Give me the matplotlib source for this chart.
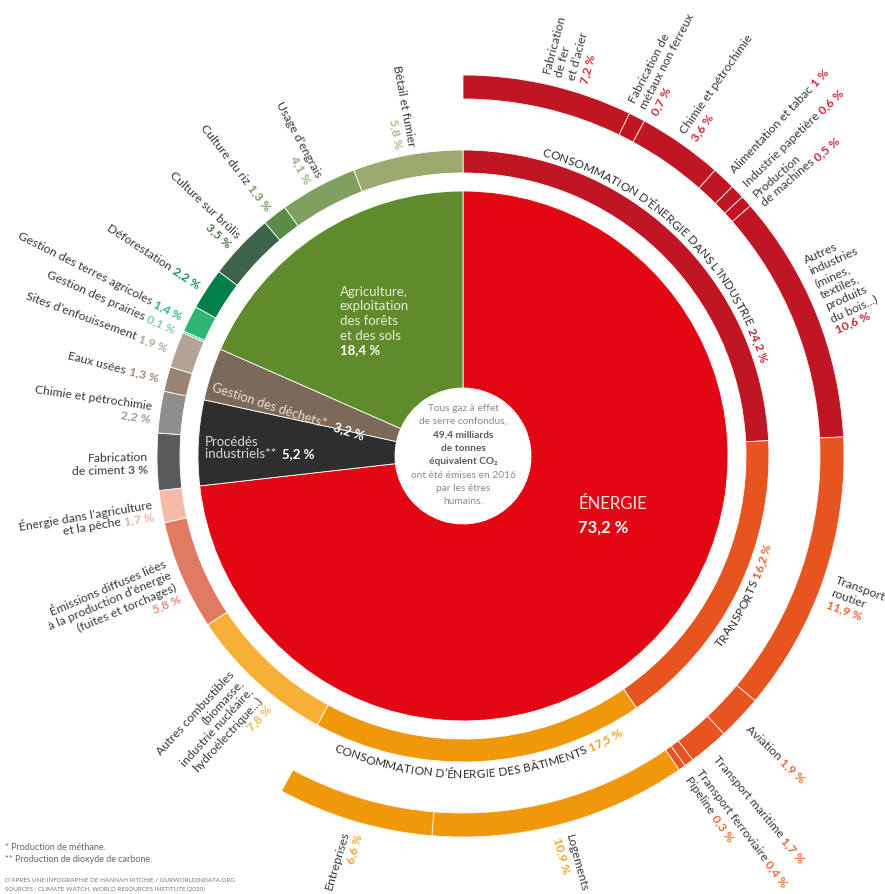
import numpy as np
import matplotlib
matplotlib.use("Agg")
import matplotlib.pyplot as plt
from matplotlib.font_manager import FontProperties
from matplotlib.textpath import TextToPath

plt.rcParams['font.family'] = ['Lato', 'DejaVu Sans']

# --- secteurs principaux (anneau intérieur)
main_labels = ['Énergie', 'Procédés industriels', 'Gestion des déchets',
               'Agriculture, exploitation des forêts et des sols']
main_vals = [73.2, 5.2, 3.2, 18.4]
main_colors = ['#e30613', '#2e2e2e', '#7b6959', '#5f8b2c']

# --- sous-secteurs (deuxième anneau), sens horaire depuis midi
sub_labels = [
    "CONSOMMATION D’ÉNERGIE DANS L’INDUSTRIE",
    "TRANSPORTS",
    "CONSOMMATION D’ÉNERGIE DES BÂTIMENTS",
    "Autres combustibles\n(biomasse,\nindustrie nucléaire,\nhydroélectrique...)\n{p}",
    "Émissions diffuses liées\nà la production d’énergie\n(fuites et torchages)\n{p}",
    "Énergie dans l’agriculture\net la pêche {p}",
    "Fabrication\nde ciment {p}",
    "Chimie et pétrochimie\n{p}",
    "Eaux usées {p}",
    "Sites d’enfouissement {p}",
    "Gestion des prairies {p}",
    "Gestion des terres agricoles {p}",
    "Déforestation {p}",
    "Culture sur brûlis\n{p}",
    "Culture du riz {p}",
    "Usage d’engrais\n{p}",
    "Bétail et fumier\n{p}",
]
sub_vals = [24.2, 16.2, 17.5, 7.8, 5.8, 1.7, 3.0, 2.2, 1.3, 1.9, 0.1, 1.4, 2.2, 3.5, 1.3, 4.1, 5.8]
sub_colors = ['#c01522', '#e85420', '#f0980a', '#f5b035', '#e07a62', '#f5bba8',
              '#5a5a5a', '#8e8e8e', '#9a8373', '#b3a397', '#5cc98e', '#2db574',
              '#007f4b', '#3e6448', '#5b8c45', '#7fa05f', '#9aaa6e']
sub_pct_colors = ['#c8202f', '#e8622a', '#f0a020', '#f5b840', '#e58a75', '#f2b0a0',
                  '#555555', '#9a9a9a', '#a08a7a', '#b8a898', '#7fcfa0', '#2fb577',
                  '#0b8a55', '#4a6e50', '#6f9a5a', '#9ab07a', '#b0b888']

# --- détail (anneau extérieur)
ind_labels = ["Fabrication\nde fer\net d’acier\n{p}", "Fabrication de\nmétaux non ferreux\n{p}",
              "Chimie et pétrochimie\n{p}", "Alimentation et tabac {p}", "Industrie papetière {p}",
              "Production\nde machines {p}",
              "Autres\nindustries\n(mines,\ntextiles,\nproduits\ndu bois...)\n{p}"]
ind_vals = [7.2, 0.7, 3.6, 1.0, 0.6, 0.5, 10.6]
tr_labels = ["Transport\nroutier\n{p}", "Aviation {p}", "Transport maritime {p}",
             "Transport ferroviaire {p}", "Pipeline {p}"]
tr_vals = [11.9, 1.9, 1.7, 0.4, 0.3]
bat_labels = ["Logements\n{p}", "Entreprises\n{p}"]
bat_vals = [10.9, 6.6]

# géométrie (pixels)
W, H = 885, 895
CX, CY = 463, H - 457
R_MAIN, R_HOLE = 265, 68
R2, R2_W = 306, 23
R3, R3_W = 381, 24
NAME_COL = '#3a3a3a'
LAB_SIZE = 8.8

fig = plt.figure(figsize=(W / 100, H / 100), dpi=100)
ax = fig.add_axes([0, 0, 1, 1])

ax.pie(main_vals, radius=R_MAIN, center=(CX, CY), startangle=90, counterclock=False,
       colors=main_colors, wedgeprops=dict(width=R_MAIN - R_HOLE, edgecolor='white', linewidth=0.6))
ax.pie(sub_vals, radius=R2, center=(CX, CY), startangle=90, counterclock=False,
       colors=sub_colors, wedgeprops=dict(width=R2_W, edgecolor='white', linewidth=0.6))
outer_vals = ind_vals + tr_vals + bat_vals
outer_cols = [sub_colors[0]] * len(ind_vals) + [sub_colors[1]] * len(tr_vals) + [sub_colors[2]] * len(bat_vals)
w3, _ = ax.pie(outer_vals + [100 - sum(outer_vals)], radius=R3, center=(CX, CY), startangle=90,
               counterclock=False, colors=outer_cols + ['white'],
               wedgeprops=dict(width=R3_W, edgecolor='#f4f4f4', linewidth=0.6))
w3[-1].set_visible(False)

ax.set_xlim(0, W)
ax.set_ylim(0, H)
ax.axis('off')

t2p = TextToPath()
_cache = {}
def tw(s, size, weight='normal'):
    key = (s, size, weight)
    if key not in _cache:
        fp = FontProperties(family='Lato', size=size, weight=weight)
        w1 = t2p.get_text_width_height_descent('I' + s + 'I', fp, ismath=False)[0]
        w0 = t2p.get_text_width_height_descent('II', fp, ismath=False)[0]
        _cache[key] = (w1 - w0) * 100 / 72
    return _cache[key]

def mids(vals, start=90):
    e = start - 3.6 * np.concatenate([[0], np.cumsum(vals)])
    return (e[:-1] + e[1:]) / 2

def fmt(v):
    s = f"{v:.1f}".replace('.', ',')
    if s.endswith(',0'):
        s = s[:-2]
    return s + " %"

def parse(tmpl, pct, col, pcol):
    lines = []
    for ln in tmpl.split('\n'):
        segs = []
        if '{p}' in ln:
            before = ln.replace('{p}', '')
            if before:
                segs.append((before, col, 'normal'))
            segs.append((pct, pcol, 'bold'))
        else:
            segs.append((ln, col, 'normal'))
        lines.append(segs)
    return lines

def block(x, y, rot, lines, size, align, lh):
    u = np.array([np.cos(np.radians(rot)), np.sin(np.radians(rot))])
    v = np.array([-u[1], u[0]])
    n = len(lines)
    for i, segs in enumerate(lines):
        off = ((n - 1) / 2 - i) * lh
        ws = [tw(t, size, wt) for t, c, wt in segs]
        tot = sum(ws)
        s0 = 0 if align == 'left' else (-tot if align == 'right' else -tot / 2)
        p = np.array([x, y]) + off * v + s0 * u
        for (t, c, wt), w in zip(segs, ws):
            ax.text(p[0], p[1], t, color=c, fontsize=size, fontweight=wt, rotation=rot,
                    rotation_mode='anchor', ha='left', va='center_baseline')
            p = p + w * u

def radial(theta, r, lines, size=LAB_SIZE, lh=12.8):
    th = (theta + 180) % 360 - 180
    x = CX + r * np.cos(np.radians(th))
    y = CY + r * np.sin(np.radians(th))
    if -90 < th < 90:
        block(x, y, th, lines, size, 'left', lh)
    else:
        block(x, y, th - 180, lines, size, 'right', lh)

def arc_text(segs, mid, r, size, clockwise):
    chars = [(ch, c, wt, tw(ch, size, wt)) for t, c, wt in segs for ch in t]
    tot = sum(ch[3] for ch in chars)
    s = -tot / 2
    for ch, c, wt, w in chars:
        if ch == ' ':
            s += w
            continue
        sc = s + w / 2
        if clockwise:
            th = mid - np.degrees(sc / r)
            rot = th - 90
        else:
            th = mid + np.degrees(sc / r)
            rot = th + 90
        ax.text(CX + r * np.cos(np.radians(th)), CY + r * np.sin(np.radians(th)), ch,
                color=c, fontsize=size, fontweight=wt, rotation=rot, rotation_mode='anchor',
                ha='center', va='baseline')
        s += w

# libellés du deuxième anneau
sub_mid = mids(sub_vals)
arc_text([(sub_labels[0] + ' ', '#2a2a2a', 'normal'), (fmt(sub_vals[0]), sub_pct_colors[0], 'bold')],
         sub_mid[0], 311, 8.6, True)
for i in (1, 2):
    arc_text([(sub_labels[i] + ' ', '#2a2a2a', 'normal'), (fmt(sub_vals[i]), sub_pct_colors[i], 'bold')],
             sub_mid[i], 321, 8.6, False)
for i in range(3, len(sub_vals)):
    radial(sub_mid[i], 315, parse(sub_labels[i], fmt(sub_vals[i]), NAME_COL, sub_pct_colors[i]))

# libellés de l'anneau extérieur
nudge = {0: -2.0, 4: 0.2, 5: -0.8, 6: 2.5, 7: -1.5, 10: 0.7}
out_labels = ind_labels + tr_labels + bat_labels
out_pcols = ['#d0283a'] * len(ind_vals) + ['#eb6a35'] * len(tr_vals) + ['#f2a531'] * len(bat_vals)
for i, (lab, v, m) in enumerate(zip(out_labels, outer_vals, mids(outer_vals))):
    radial(m + nudge.get(i, 0), 392, parse(lab, fmt(v), NAME_COL, out_pcols[i]))

# libellés des secteurs principaux
ax.text(578, H - 509, 'ÉNERGIE', color='#fbe0e0', fontsize=12, ha='left', va='baseline')
ax.text(578, H - 533, fmt(main_vals[0]), color='white', fontsize=12, fontweight='bold',
        ha='left', va='baseline')
block(340, H - 320, 0, parse("Agriculture,\nexploitation\ndes forêts\net des sols\n{p}",
                             fmt(main_vals[3]), '#e8edd8', 'white'), 9.5, 'left', 14.6)
block(213, H - 386, -18, parse("Gestion des déchets*  {p}", fmt(main_vals[2]), '#eadfd5', 'white'),
      9.3, 'left', 13)
block(205, H - 447, 0, parse("Procédés\nindustriels**  {p}", fmt(main_vals[1]), '#d8d8d8', 'white'),
      9.5, 'left', 13)

# texte central
center_lines = [("Tous gaz à effet", '#8a8a8a', 'normal'), ("de serre confondus,", '#8a8a8a', 'normal'),
                ("49,4 milliards", '#5a5a5a', 'bold'), ("de tonnes", '#5a5a5a', 'bold'),
                ("équivalent CO₂", '#5a5a5a', 'bold'), ("ont été émises en 2016", '#8a8a8a', 'normal'),
                ("par les êtres", '#8a8a8a', 'normal'), ("humains.", '#8a8a8a', 'normal')]
block(CX, CY + 3, 0, [[l] for l in center_lines], 7.3, 'center', 13.4)

# notes
ax.text(5, H - 850, "* Production de méthane.", fontsize=6.5, color='#666666', va='baseline')
ax.text(5, H - 862, "** Production de dioxyde de carbone.", fontsize=6.5, color='#666666', va='baseline')
ax.text(5, H - 882, "D’APRÈS UNE INFOGRAPHIE DE HANNAH RITCHIE / OURWORLDINDATA.ORG", fontsize=4.5,
        color='#777777', va='baseline')
ax.text(5, H - 891, "SOURCES : CLIMATE WATCH, WORLD RESOURCES INSTITUTE (2020)", fontsize=4.5,
        color='#777777', va='baseline')

fig.savefig('out.png', dpi=100, facecolor='white')
